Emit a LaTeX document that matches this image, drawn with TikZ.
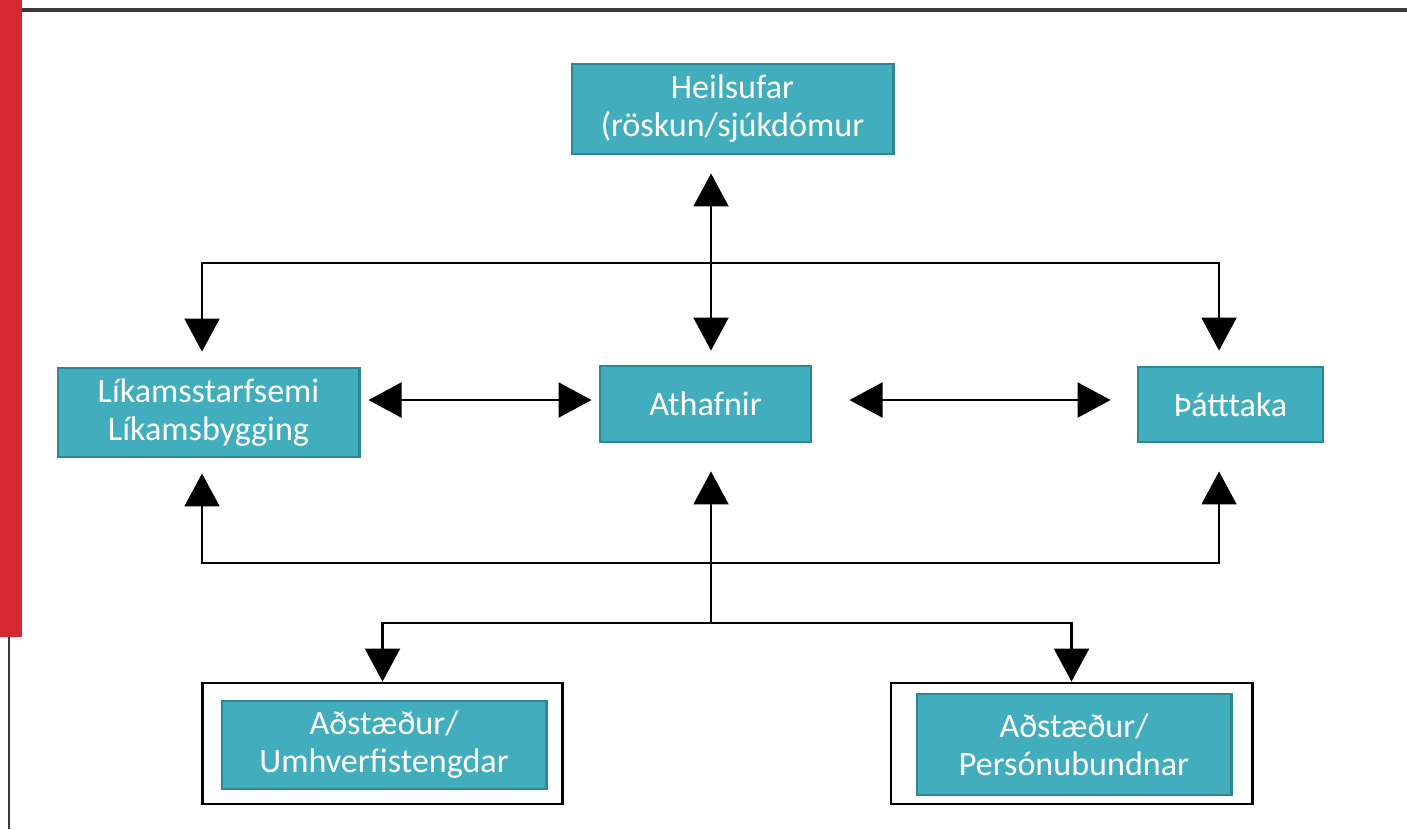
\documentclass[tikz,border=0pt]{standalone}
\usepackage{fontspec}
\setmainfont{Carlito}
\usetikzlibrary{arrows.meta}
\definecolor{boxteal}{HTML}{41ADBD}
\definecolor{boxedge}{HTML}{2C8994}
\definecolor{barred}{HTML}{D62832}
\definecolor{rulegray}{HTML}{3A3A3A}

\begin{document}
\begin{tikzpicture}[x=0.01cm, y=-0.01cm, line width=0.6pt,
  box/.style = {draw=boxedge, fill=boxteal, text=white, align=center, inner sep=0pt, line width=0.8pt, font=\fontsize{9.7}{10.8}\selectfont},
  frame/.style = {draw=black, line width=0.8pt, inner sep=0pt},
  link/.style = {-{Triangle[length=0.33cm, width=0.35cm]}},
  both/.style = {{Triangle[length=0.33cm, width=0.35cm]}-{Triangle[length=0.33cm, width=0.35cm]}}]
\useasboundingbox (0,0) rectangle (1407,829);
% slide frame
\fill[barred] (0,0) rectangle (22,637);
\draw[rulegray, line width=1pt] (22,10) -- (1407,10);
\draw[rulegray, line width=0.8pt] (9,637) -- (9,829);
% boxes
\node[box, minimum width=3.21cm, minimum height=0.9cm] (heil) at (732.5,109) {Heilsufar\\(röskun/sjúkdómur};
\node[box, minimum width=3.01cm, minimum height=0.89cm] (lik) at (208.5,412.5) {Líkamsstarfsemi\\Líkamsbygging};
\node[box, minimum width=2.11cm, minimum height=0.76cm] (ath) at (705.5,404) {Athafnir};
\node[box, minimum width=1.85cm, minimum height=0.75cm] (thatt) at (1230.5,404.5) {Þátttaka};
\node[frame, minimum width=3.59cm, minimum height=1.21cm] (envout) at (382.5,743.5) {};
\node[box, minimum width=3.24cm, minimum height=0.88cm] (env) at (384,745) {Aðstæður/\\Umhverfistengdar};
\node[frame, minimum width=3.61cm, minimum height=1.21cm] (persout) at (1071.5,743.5) {};
\node[box, minimum width=3.14cm, minimum height=1.01cm] (pers) at (1074,744.5) {Aðstæður/\\Persónubundnar};
% helper points
\coordinate (topjoin) at (711,263);
\coordinate (lowjoin) at (711,563);
\coordinate (envjoin) at (711,623);
\coordinate (lcol) at (202,0);
\coordinate (rcol) at (1219,0);
\coordinate (row) at (0,400);
% connectors
\draw[both, shorten <=0.18cm, shorten >=0.14cm] (heil.south -| topjoin) -- (ath.north -| topjoin);
\draw[link, shorten >=0.15cm] (topjoin) -| (lik.north -| lcol);
\draw[link, shorten >=0.15cm] (topjoin) -| (thatt.north -| rcol);
\draw[both, shorten <=0.08cm, shorten >=0.07cm] (lik.east |- row) -- (ath.west |- row);
\draw[both, shorten <=0.37cm, shorten >=0.26cm] (ath.east |- row) -- (thatt.west |- row);
\draw[link, shorten >=0.15cm] (lowjoin) -| (lik.south -| lcol);
\draw[link, shorten >=0.28cm] (lowjoin) -| (thatt.south -| rcol);
\draw[link, shorten >=0.28cm] (envjoin) -- (ath.south -| envjoin);
\draw[link] (envjoin) -| (envout);
\draw[link] (envjoin) -| (persout);
\end{tikzpicture}
\end{document}
